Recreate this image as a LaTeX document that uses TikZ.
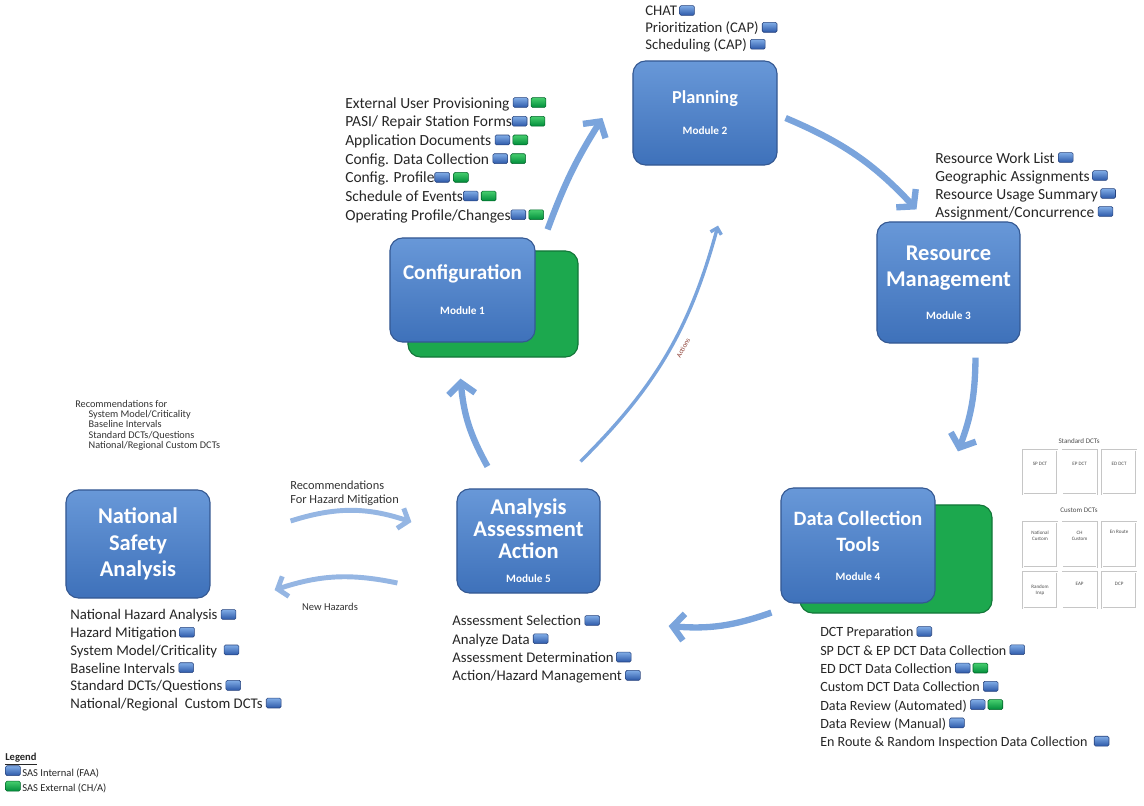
\documentclass[tikz,border=0pt]{standalone}
\usepackage{fontspec}
\setmainfont{Carlito}
\usetikzlibrary{arrows.meta, positioning}

\definecolor{boxtop}{RGB}{104,152,216}
\definecolor{boxbot}{RGB}{62,113,186}
\definecolor{boxline}{RGB}{52,88,146}
\definecolor{backgreen}{RGB}{28,168,78}
\definecolor{backline}{RGB}{18,118,56}
\definecolor{arrowblue}{RGB}{122,164,220}
\definecolor{icontop}{RGB}{128,172,230}
\definecolor{iconbot}{RGB}{44,88,168}
\definecolor{iconline}{RGB}{38,66,124}
\definecolor{gicontop}{RGB}{70,206,110}
\definecolor{giconbot}{RGB}{0,140,58}
\definecolor{giconline}{RGB}{0,100,40}
\definecolor{actred}{RGB}{140,62,52}

% small status icons used in the lists
\newcommand{\bic}{\tikz[baseline=-0.4pt]\draw[x=1pt, y=1pt, draw=iconline, line width=0.4pt, top color=icontop, bottom color=iconbot, rounded corners=1pt] (0,0) rectangle (10.5,7);}
\newcommand{\gic}{\tikz[baseline=-0.4pt]\draw[x=1pt, y=1pt, draw=giconline, line width=0.4pt, top color=gicontop, bottom color=giconbot, rounded corners=1pt] (0,0) rectangle (10.5,7);}

\begin{document}
\begin{tikzpicture}[x=0.025cm, y=-0.025cm,
  module/.style={rectangle, draw=boxline, line width=0.8pt, top color=boxtop, bottom color=boxbot, rounded corners=9pt, text=white, align=center, inner sep=2pt, minimum width=3.6cm, minimum height=2.6cm, font=\fontsize{15}{19}\selectfont\bfseries},
  greenback/.style={rectangle, draw=backline, line width=0.8pt, fill=backgreen, rounded corners=9pt},
  items/.style={anchor=north west, align=left, inner sep=0pt, font=\fontsize{10.5}{13}\selectfont, text=black!85},
  note/.style={anchor=north west, align=left, inner sep=0pt, font=\fontsize{7.3}{7.3}\selectfont, text=black!80},
  dctbox/.style={rectangle, draw=gray!45, double=white, double distance=0.5pt, minimum width=0.85cm, align=center, inner sep=1pt, font=\fontsize{3.6}{4.2}\selectfont, text=black!70},
  flow/.style={draw=arrowblue, line width=4.5pt, -{Straight Barb[length=8pt, width=19pt]}},
  rec/.style={draw=arrowblue!80, line width=3.5pt, -{Straight Barb[length=6pt, width=15pt]}},
  act/.style={draw=arrowblue, line width=2.4pt, -{Straight Barb[length=4pt, width=8pt]}}]
  \useasboundingbox (0,0) rectangle (1144,806);

  % modules
  \node [module, font=\fontsize{13}{19}\selectfont\bfseries] (plan) at (705,113) {Planning\\[3pt]{\fontsize{8}{9}\selectfont Module 2}};
  \node [greenback, minimum width=4.25cm, minimum height=2.65cm] (cfgback) at (493,304) {};
  \node [module, minimum width=3.625cm] (cfg) at (462.5,290) {Configuration\\[6pt]{\fontsize{8}{9}\selectfont Module 1}};
  \node [module, minimum width=3.575cm, minimum height=3.025cm, font=\fontsize{16}{19}\selectfont\bfseries] (res) at (948.5,282.5) {Resource\\Management\\[4pt]{\fontsize{8}{9}\selectfont Module 3}};
  \node [greenback, minimum width=4.8cm, minimum height=2.7cm] (dctback) at (896,559) {};
  \node [module, minimum width=3.85cm, minimum height=2.875cm, font=\fontsize{14.5}{19}\selectfont\bfseries] (dct) at (858,545.5) {Data Collection\\Tools\\[1pt]{\fontsize{8}{9}\selectfont Module 4}};
  \node [module, minimum width=3.575cm, font=\fontsize{16}{15.5}\selectfont\bfseries] (ana) at (528.5,541) {Analysis\\Assessment\\Action\\[2pt]{\fontsize{8}{9}\selectfont Module 5}};
  \node [module, minimum height=2.7cm, font=\fontsize{16}{19}\selectfont\bfseries] (nat) at (138,544) {National\\Safety\\Analysis};

  % item lists
  \node [items, font=\fontsize{10.5}{12}\selectfont] (planlist) at (645,5) {CHAT\,\bic\\Prioritization (CAP) \bic\\Scheduling (CAP) \bic};
  \node [items, font=\fontsize{11}{13.3}\selectfont] (cfglist) at (345,97) {External User Provisioning \bic\,\gic\\PASI/ Repair Station Forms\bic\,\gic\\Application Documents \bic\,\gic\\Config. Data Collection \bic\,\gic\\Config. Profile\bic\ \gic\\Schedule of Events\bic\,\gic\\Operating Profile/Changes\bic\,\gic};
  \node [items, font=\fontsize{11}{12.8}\selectfont] (reslist) at (935,152) {Resource Work List \bic\\Geographic Assignments\,\bic\\Resource Usage Summary\,\bic\\Assignment/Concurrence \bic};
  \node [items, font=\fontsize{10}{13}\selectfont] (dctlist) at (820,626) {DCT Preparation \bic\\SP DCT \& EP DCT Data Collection \bic\\ED DCT Data Collection \bic\,\gic\\Custom DCT Data Collection \bic\\Data Review (Automated) \bic\,\gic\\Data Review (Manual) \bic\\En Route \& Random Inspection Data Collection \ \bic};
  \node [items] (analist) at (452,615) {Assessment Selection \bic\\Analyze Data \bic\\Assessment Determination\,\bic\\Action/Hazard Management \bic};
  \node [items, font=\fontsize{10.5}{12.6}\selectfont] (natlist) at (70,609) {National Hazard Analysis \bic\\Hazard Mitigation\,\bic\\System Model/Criticality \ \bic\\Baseline Intervals \bic\\Standard DCTs/Questions \bic\\National/Regional \ Custom DCTs \bic};

  % notes
  \node [note] (recfor) at (75,400) {Recommendations for\\\hspace*{1.3em}System Model/Criticality\\\hspace*{1.3em}Baseline Intervals\\\hspace*{1.3em}Standard DCTs/Questions\\\hspace*{1.3em}National/Regional Custom DCTs};
  \node [note, font=\fontsize{8.8}{10}\selectfont] (recmit) at (290,481) {Recommendations\\For Hazard Mitigation};
  \node [note, font=\fontsize{7.5}{9}\selectfont, anchor=center] (newhaz) at (330,607) {New Hazards};

  % cycle
  \draw [flow] ([shift={(12,-8)}]cfg.north east) to[bend left=6] ([shift={(-30,5)}]plan.west);
  \draw [flow] ([shift={(8,5)}]plan.east) to[bend left=12] ([shift={(-32,-12)}]res.north);
  \draw [flow] ([shift={(27,14)}]res.south) to[bend left=10] ([shift={(100,-36)}]dct.north);
  \draw [flow] ([shift={(-9,9)}]dct.south west) to[bend left=12] ([shift={(68,85)}]ana.east);
  \draw [flow] ([shift={(-41,-22)}]ana.north) to[bend left=12] ([shift={(-2,36)}]cfg.south);
  \draw [act] ([shift={(52,-27)}]ana.north) to[bend right=15] node[pos=0.55, sloped, below=5pt, inner sep=0pt, font=\fontsize{5}{6}\selectfont, text=actred] {Actions} ([shift={(13,60)}]plan.south);
  \draw [rec] ([shift={(80,-23)}]nat.east) to[bend left=18] ([shift={(-45,-19)}]ana.west);
  \draw [rec] ([shift={(-59,42)}]ana.west) to[bend right=15] ([shift={(64,46)}]nat.east);

  % DCT panel
  \node [font=\fontsize{5}{6}\selectfont, text=black!70] (stdlbl) at (1079,441) {Standard DCTs};
  \node [dctbox, minimum height=1.1cm] (spdct) at (1040,472) {SP DCT\\[8pt]};
  \node [dctbox, minimum height=1.1cm, right=0.125cm of spdct] (epdct) {EP DCT\\[8pt]};
  \node [dctbox, minimum height=1.1cm, right=0.125cm of epdct] (eddct) {ED DCT\\[8pt]};
  \node [font=\fontsize{5}{6}\selectfont, text=black!70] (cuslbl) at (1079,510) {Custom DCTs};
  \node [dctbox, minimum height=1.125cm] (natcus) at (1040,544.5) {National\\Custom\\[8pt]};
  \node [dctbox, minimum height=1.125cm, right=0.125cm of natcus] (chcus) {CH\\Custom\\[8pt]};
  \node [dctbox, minimum height=1.125cm, right=0.125cm of chcus] (enroute) {En Route\\[14pt]};
  \node [dctbox, minimum height=0.9cm] (random) at (1040,590) {Random\\Insp};
  \node [dctbox, minimum height=0.9cm, right=0.125cm of random] (eap) {EAP\\[4pt]};
  \node [dctbox, minimum height=0.9cm, right=0.125cm of eap] (dcp) {DCP\\[4pt]};

  % legend
  \node [items, font=\fontsize{7.5}{11}\selectfont] (legend) at (5,753) {\underline{\textbf{Legend}}\\\bic\,SAS Internal (FAA)\\\gic\,SAS External (CH/A)};
\end{tikzpicture}
\end{document}
